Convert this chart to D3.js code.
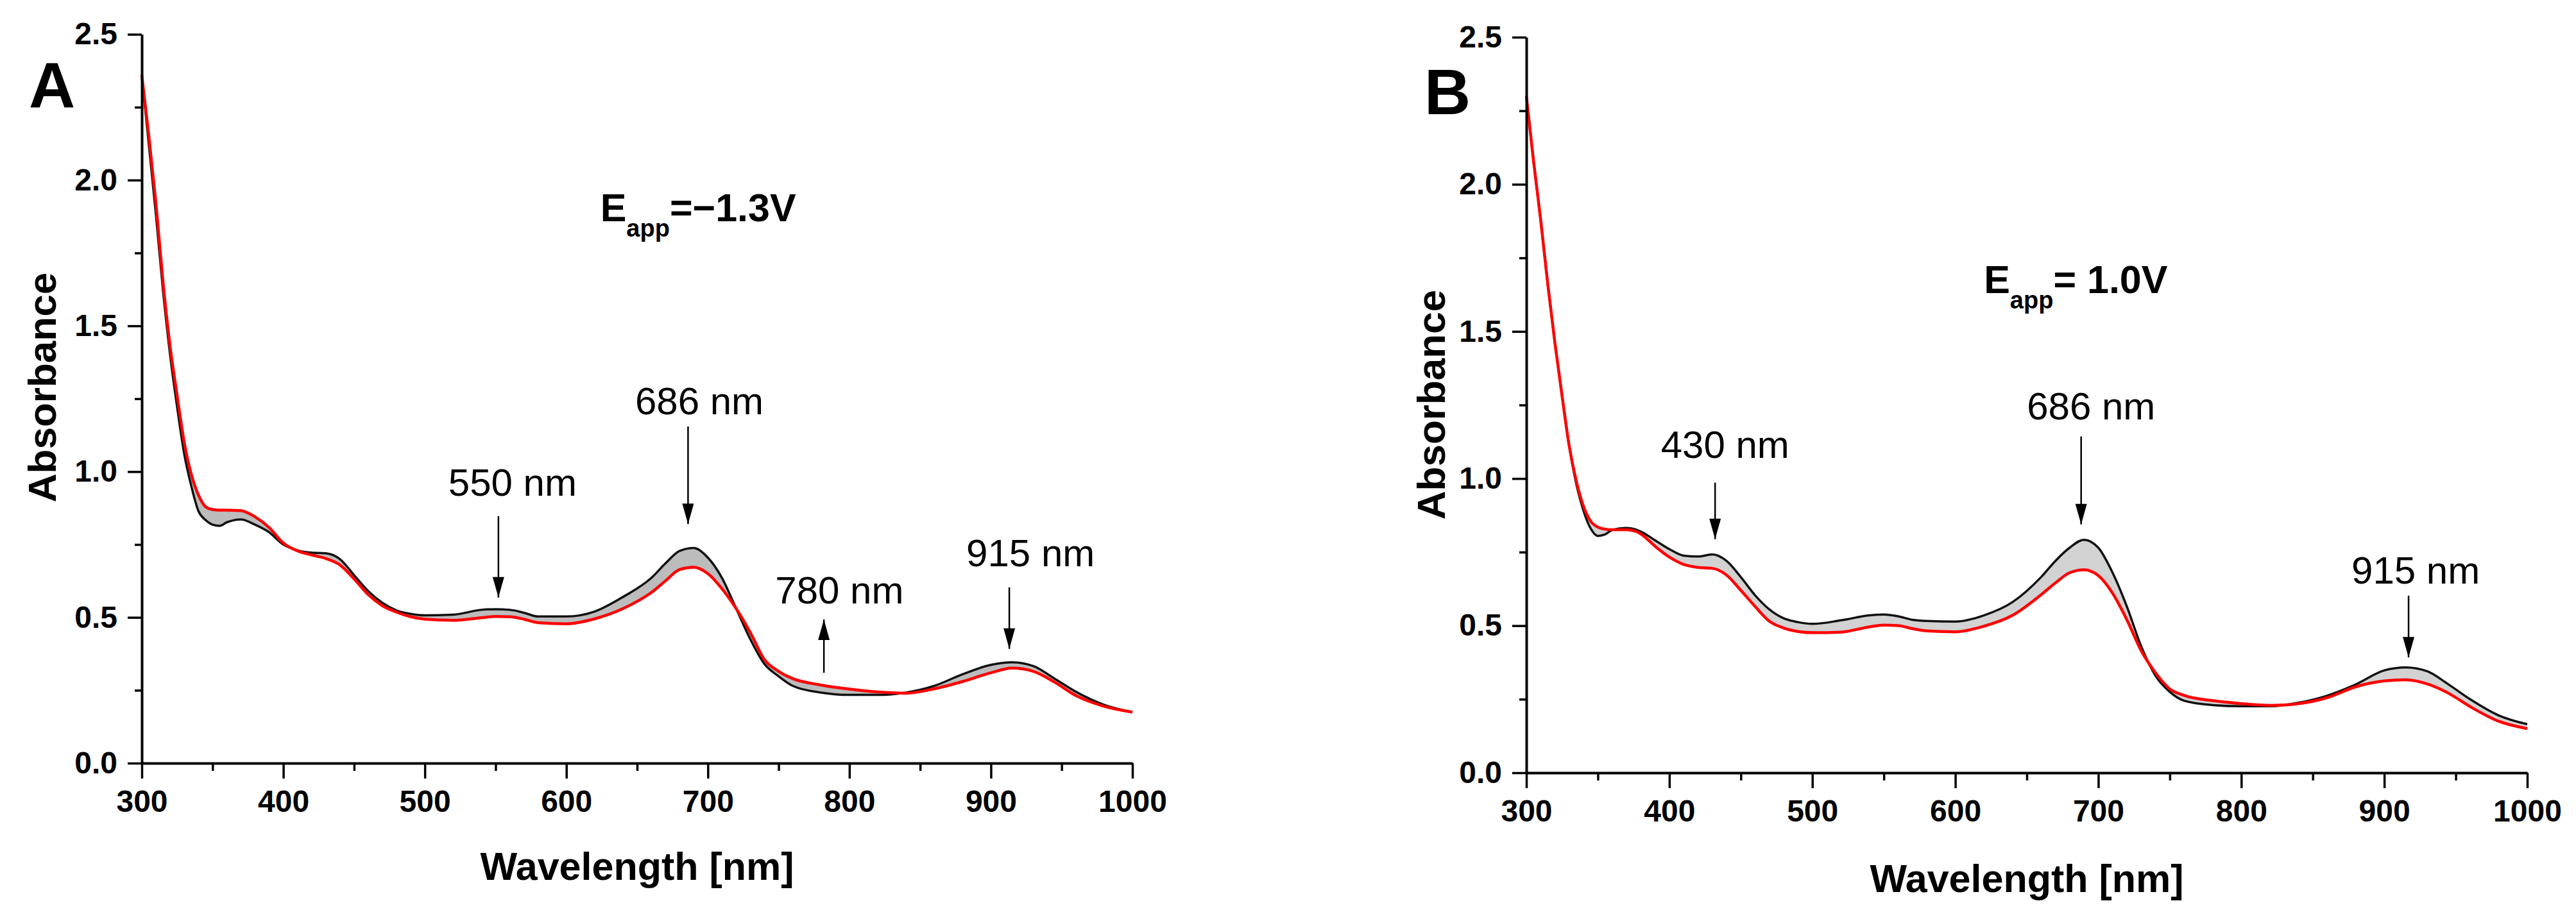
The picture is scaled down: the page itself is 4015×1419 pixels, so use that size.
<!DOCTYPE html>
<html>
<head>
<meta charset="utf-8">
<script src="https://cdn.jsdelivr.net/npm/d3@7"></script>
<style>
  body { margin: 0; background: #fff; }
  svg { display: block; font-family: "Liberation Sans", Arial, sans-serif; }
  .tick text { font-weight: bold; font-size: 48px; fill: #000; }
</style>
</head>
<body>
<svg width="4015" height="1419"></svg>
<script>
// wavelength grid shared by both panels (nm)
var wavelengths = [300, 305, 310, 315, 320, 325, 330, 335, 340, 345, 350, 355, 360, 370, 380, 390, 400, 410, 420, 430, 440, 450, 460, 470, 480, 490, 500, 520, 540, 550, 560, 570, 580, 600, 620, 640, 660, 670, 680, 690, 700, 710, 720, 730, 740, 750, 760, 780, 800, 820, 840, 860, 880, 900, 915, 930, 945, 960, 980, 1000];

// panel A, E = -1.3 V : first (black) and last (red) spectrum
var blackA = [2.36, 2.12, 1.88, 1.62, 1.40, 1.22, 1.06, 0.95, 0.865, 0.834, 0.818, 0.814, 0.826, 0.836, 0.818, 0.792, 0.750, 0.730, 0.722, 0.720, 0.700, 0.645, 0.590, 0.550, 0.524, 0.512, 0.507, 0.509, 0.526, 0.528, 0.526, 0.516, 0.503, 0.503, 0.520, 0.570, 0.635, 0.685, 0.728, 0.738, 0.705, 0.635, 0.530, 0.425, 0.340, 0.298, 0.265, 0.242, 0.234, 0.234, 0.242, 0.265, 0.305, 0.337, 0.346, 0.333, 0.290, 0.245, 0.200, 0.175];
var redA = [2.36, 2.15, 1.92, 1.65, 1.43, 1.26, 1.10, 0.99, 0.92, 0.88, 0.870, 0.868, 0.868, 0.866, 0.845, 0.808, 0.755, 0.728, 0.714, 0.702, 0.680, 0.632, 0.578, 0.540, 0.518, 0.502, 0.494, 0.490, 0.499, 0.503, 0.502, 0.494, 0.482, 0.478, 0.495, 0.530, 0.585, 0.625, 0.664, 0.672, 0.650, 0.598, 0.530, 0.448, 0.355, 0.315, 0.290, 0.268, 0.254, 0.244, 0.240, 0.255, 0.280, 0.310, 0.326, 0.315, 0.278, 0.232, 0.195, 0.175];

// panel B, E = 1.0 V
var blackB = [2.30, 2.08, 1.88, 1.66, 1.46, 1.28, 1.11, 0.98, 0.89, 0.83, 0.805, 0.810, 0.825, 0.832, 0.820, 0.790, 0.760, 0.738, 0.735, 0.742, 0.720, 0.665, 0.603, 0.555, 0.525, 0.512, 0.506, 0.518, 0.535, 0.538, 0.532, 0.520, 0.516, 0.514, 0.535, 0.580, 0.665, 0.720, 0.765, 0.792, 0.765, 0.680, 0.565, 0.430, 0.330, 0.275, 0.245, 0.230, 0.226, 0.226, 0.238, 0.262, 0.300, 0.348, 0.358, 0.345, 0.300, 0.250, 0.195, 0.165];
var redB = [2.30, 2.08, 1.88, 1.66, 1.46, 1.28, 1.11, 0.99, 0.905, 0.855, 0.835, 0.828, 0.826, 0.826, 0.812, 0.770, 0.733, 0.708, 0.698, 0.695, 0.672, 0.620, 0.565, 0.515, 0.492, 0.480, 0.476, 0.478, 0.496, 0.502, 0.500, 0.490, 0.482, 0.479, 0.498, 0.535, 0.605, 0.645, 0.680, 0.690, 0.670, 0.610, 0.520, 0.415, 0.340, 0.285, 0.263, 0.245, 0.235, 0.229, 0.235, 0.255, 0.292, 0.312, 0.316, 0.302, 0.270, 0.225, 0.175, 0.150];

var xTicks = [300, 400, 500, 600, 700, 800, 900, 1000];
var xMinorTicks = [350, 450, 550, 650, 750, 850, 950];
var yTicks = [0.0, 0.5, 1.0, 1.5, 2.0, 2.5];
var yMinorTicks = [0.25, 0.75, 1.25, 1.75, 2.25];

// arrow annotations: label, text x (nm), text baseline (abs), arrow x (nm), arrow from, arrow to
var notesA = [
    ["550 nm", 562, 0.917, 552, 0.847, 0.568],
    ["686 nm", 694, 1.197, 686, 1.155, 0.820],
    ["780 nm", 793, 0.548, 782, 0.310, 0.493],
    ["915 nm", 928, 0.675, 913, 0.603, 0.392]
];
var notesB = [
    ["430 nm", 439, 1.070, 432, 0.986, 0.794],
    ["686 nm", 695, 1.201, 688, 1.143, 0.844],
    ["915 nm", 922, 0.643, 917, 0.602, 0.392]
];

var svg = d3.select("svg");

function drawPanel(p) {
    var x = d3.scaleLinear().domain([300, 1000]).range([p.left, p.right]);
    var y = d3.scaleLinear().domain([0, 2.5]).range([p.bottom, p.top]);

    var g = svg.append("g");

    var rows = wavelengths.map(function(w, i) {
        return {w: w, black: p.black[i], red: p.red[i]};
    });

    // the intermediate spectra fill the gap between first and last curve
    g.append("path")
        .datum(rows)
        .attr("fill", p.band)
        .attr("d", d3.area()
            .curve(d3.curveMonotoneX)
            .x(function(d) { return x(d.w); })
            .y0(function(d) { return y(d.black); })
            .y1(function(d) { return y(d.red); }));

    var line = function(key) {
        return d3.line()
            .curve(d3.curveMonotoneX)
            .x(function(d) { return x(d.w); })
            .y(function(d) { return y(d[key]); });
    };

    g.append("path").datum(rows)
        .attr("fill", "none").attr("stroke", "#111").attr("stroke-width", 3.5)
        .attr("d", line("black"));
    g.append("path").datum(rows)
        .attr("fill", "none").attr("stroke", "#ff0000").attr("stroke-width", 4.5)
        .attr("d", line("red"));

    // axes
    var ax = g.append("g").attr("transform", "translate(0," + p.bottom + ")");
    ax.call(d3.axisBottom(x).tickValues(xTicks).tickSize(24).tickSizeOuter(0).tickPadding(18).tickFormat(d3.format("d")));
    ax.append("g").call(d3.axisBottom(x).tickValues(xMinorTicks).tickSize(12).tickFormat(""))
        .select(".domain").remove();

    var ay = g.append("g").attr("transform", "translate(" + p.left + ",0)");
    ay.call(d3.axisLeft(y).tickValues(yTicks).tickSize(22).tickSizeOuter(0).tickPadding(16).tickFormat(d3.format(".1f")));
    ay.append("g").call(d3.axisLeft(y).tickValues(yMinorTicks).tickSize(11).tickFormat(""))
        .select(".domain").remove();

    g.selectAll(".domain").attr("stroke", "#000").attr("stroke-width", 4);
    g.selectAll(".tick line").attr("stroke", "#000").attr("stroke-width", 3.5);

    // titles
    g.append("text")
        .attr("x", (p.left + p.right) / 2)
        .attr("y", p.xTitleY)
        .attr("text-anchor", "middle")
        .attr("font-weight", "bold")
        .attr("font-size", 61)
        .text("Wavelength [nm]");

    g.append("text")
        .attr("transform", "translate(" + p.yTitleX + "," + p.yTitleMid + ") rotate(-90)")
        .attr("text-anchor", "middle")
        .attr("font-weight", "bold")
        .attr("font-size", 62)
        .text("Absorbance");

    g.append("text")
        .attr("x", p.letterX)
        .attr("y", p.letterY)
        .attr("font-weight", "bold")
        .attr("font-size", 100)
        .text(p.letter);

    // applied potential
    var e = g.append("text")
        .attr("x", x(p.eX))
        .attr("y", y(p.eY))
        .attr("font-weight", "bold")
        .attr("font-size", 61);
    e.append("tspan").text("E");
    e.append("tspan").attr("dy", 24).attr("font-size", 38).text("app");
    e.append("tspan").attr("dy", -24).text(p.eText);

    // arrows and labels
    var notes = g.selectAll(".note").data(p.notes).enter().append("g").attr("class", "note");
    notes.append("text")
        .attr("x", function(d) { return x(d[1]); })
        .attr("y", function(d) { return y(d[2]); })
        .attr("text-anchor", "middle")
        .attr("font-size", 60)
        .text(function(d) { return d[0]; });
    notes.append("line")
        .attr("x1", function(d) { return x(d[3]); })
        .attr("x2", function(d) { return x(d[3]); })
        .attr("y1", function(d) { return y(d[4]); })
        .attr("y2", function(d) { return y(d[5]); })
        .attr("stroke", "#000")
        .attr("stroke-width", 2.5);
    notes.append("path")
        .attr("fill", "#000")
        .attr("d", function(d) {
            var tx = x(d[3]), ty = y(d[5]);
            var dir = d[5] < d[4] ? -1 : 1; // -1 points down on screen
            var by = ty + dir * 32;
            return "M" + tx + "," + ty + "L" + (tx - 9) + "," + by + "L" + (tx + 9) + "," + by + "Z";
        });
}

drawPanel({
    left: 221, right: 1765, top: 53.5, bottom: 1190,
    black: blackA, red: redA, band: "#bcbcbc",
    xTitleY: 1372, yTitleX: 87, yTitleMid: 604,
    letter: "A", letterX: 45, letterY: 168,
    eX: 624, eY: 1.859, eText: "=\u22121.3V",
    notes: notesA
});

drawPanel({
    left: 2379, right: 3939, top: 58, bottom: 1205,
    black: blackB, red: redB, band: "#d2d2d2",
    xTitleY: 1391, yTitleX: 2252, yTitleMid: 631,
    letter: "B", letterX: 2220, letterY: 178,
    eX: 620, eY: 1.630, eText: "= 1.0V",
    notes: notesB
});
</script>
</body>
</html>
